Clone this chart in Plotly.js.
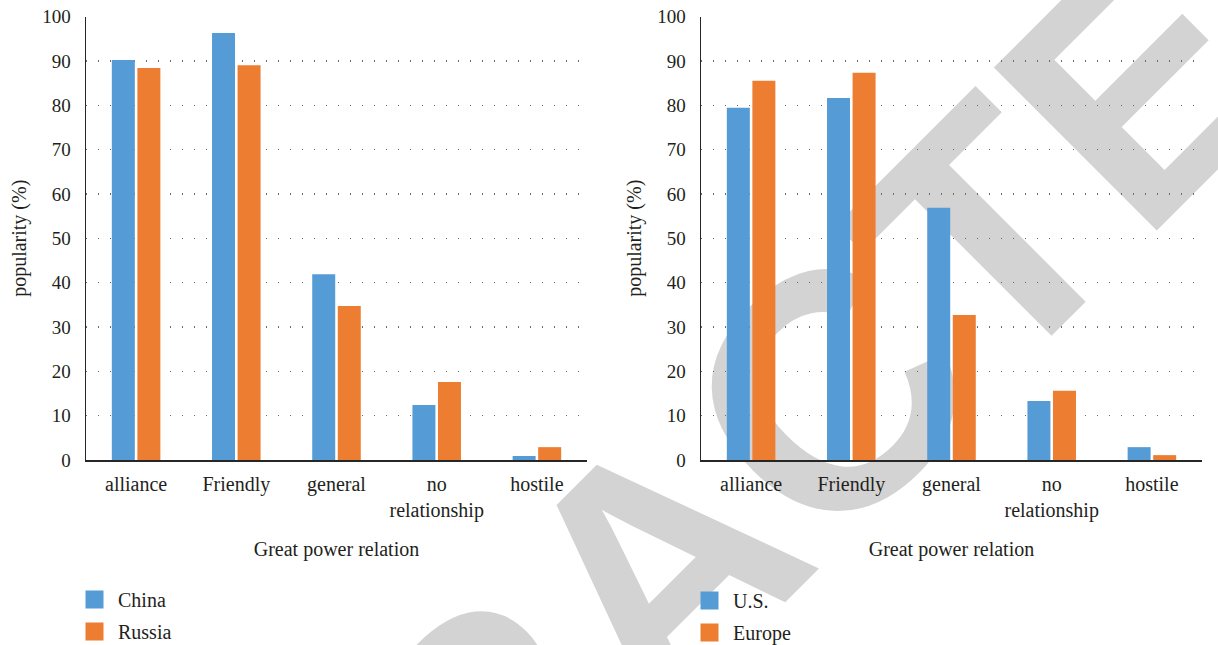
<!DOCTYPE html>
<html>
<head>
<meta charset="utf-8">
<script src="https://cdn.plot.ly/plotly-3.0.1.min.js"></script>
<style>
  html, body { margin: 0; padding: 0; background: #fff; overflow: hidden; width: 1218px; height: 645px; }
  #wrap { position: relative; width: 1218px; height: 645px; overflow: hidden; }
  #stamp {
    position: absolute; left: 658px; top: 566px;
    transform: translate(-50%, -50%) rotate(-45deg);
    font-family: "Liberation Sans", Arial, sans-serif; font-weight: bold;
    font-size: 335px; line-height: 1; color: #d3d3d3; white-space: nowrap; z-index: 0;
  }
  #chart { position: absolute; left: 0; top: 0; width: 1218px; height: 645px; z-index: 1; }
</style>
</head>
<body>
<div id="wrap">
  <div id="stamp">RETRACTED</div>
  <div id="chart"></div>
</div>
<script>
// Great power relation categories
const relations = ['alliance', 'Friendly', 'general', 'no<br>relationship', 'hostile'];

// popularity (%) per relation
const chinaPct  = [90.2, 96.3, 41.9, 12.4, 0.9];
const russiaPct = [88.4, 89.0, 34.7, 17.6, 2.9];
const usPct     = [79.4, 81.6, 56.9, 13.3, 2.9];
const europePct = [85.5, 87.3, 32.7, 15.6, 1.1];

const yTicks = [0, 10, 20, 30, 40, 50, 60, 70, 80, 90, 100];

const BLUE = '#559bd5';
const ORANGE = '#ed7d31';
const TEXT = '#231f20';
const SERIF = '"Liberation Serif", "Times New Roman", serif';

function bar(name, x, y, color, xa, ya, legend) {
  return {
    type: 'bar', name: name, x: x, y: y,
    xaxis: xa, yaxis: ya, legend: legend, legendgroup: name,
    marker: { color: color, line: { width: 0 } },
    hoverinfo: 'skip'
  };
}

const traces = [
  bar('China',  relations, chinaPct,  BLUE,   'x',  'y',  'legend'),
  bar('Russia', relations, russiaPct, ORANGE, 'x',  'y',  'legend'),
  bar('U.S.',   relations, usPct,     BLUE,   'x2', 'y2', 'legend2'),
  bar('Europe', relations, europePct, ORANGE, 'x2', 'y2', 'legend2')
];

function xAxis(domain, anchor) {
  return {
    domain: domain, anchor: anchor, type: 'category',
    showline: true, linecolor: '#262626', linewidth: 2,
    showgrid: false, ticks: '', zeroline: false,
    tickfont: { family: SERIF, size: 20, color: TEXT },
    ticklabelstandoff: 5,
    title: { text: 'Great power relation', font: { family: SERIF, size: 20, color: TEXT }, standoff: 21 },
    fixedrange: true
  };
}

function yAxis(anchor) {
  return {
    domain: [0.2868, 0.9744], anchor: anchor,
    range: [0, 100], tickvals: yTicks, ticktext: yTicks.map(String),
    showline: true, linecolor: '#262626', linewidth: 1.5,
    showgrid: true, gridcolor: '#6a6a6a', gridwidth: 1.4, griddash: '1.4px,10.6px',
    zeroline: false, ticks: '',
    tickfont: { family: SERIF, size: 19, color: TEXT },
    ticklabelstandoff: 10,
    title: { text: 'popularity (%)', font: { family: SERIF, size: 20, color: TEXT }, standoff: 10 },
    fixedrange: true
  };
}

function legendBox(xPx, topPx) {
  return {
    x: xPx / 1218, y: (645 - topPx) / 645, xanchor: 'left', yanchor: 'top',
    orientation: 'v', bgcolor: 'rgba(0,0,0,0)', borderwidth: 0,
    font: { family: SERIF, size: 20, color: TEXT },
    itemwidth: 37, tracegroupgap: 3, traceorder: 'grouped'
  };
}

const layout = {
  width: 1218, height: 645,
  margin: { l: 0, r: 0, t: 0, b: 0, autoexpand: false },
  paper_bgcolor: 'rgba(0,0,0,0)', plot_bgcolor: 'rgba(0,0,0,0)',
  font: { family: SERIF, color: TEXT },
  barmode: 'group', bargap: 0.49, bargroupgap: 0.1,
  showlegend: true,
  xaxis: xAxis([86 / 1218, 587 / 1218], 'y'),
  yaxis: yAxis('x'),
  xaxis2: xAxis([701 / 1218, 1202 / 1218], 'y2'),
  yaxis2: yAxis('x2'),
  legend: legendBox(71, 580),
  legend2: legendBox(686, 581)
};

Plotly.newPlot('chart', traces, layout, { displayModeBar: false, staticPlot: true }).then(function (gd) {
  // larger square swatches in both legends
  gd.querySelectorAll('.legendpoints path').forEach(function (p) {
    p.setAttribute('d', 'M9,9H-9V-9H9Z');
  });
});
</script>
</body>
</html>
